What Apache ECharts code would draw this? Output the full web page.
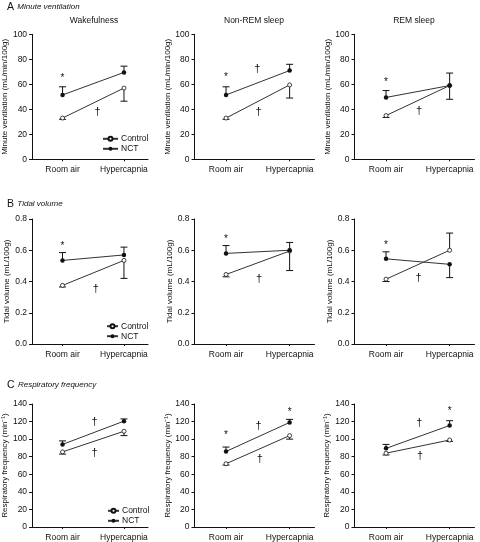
<!DOCTYPE html>
<html><head><meta charset="utf-8">
<script src="https://cdn.jsdelivr.net/npm/echarts@6/dist/echarts.min.js"></script>
<style>html,body{margin:0;padding:0;background:#fff}#c{width:480px;height:542px}</style>
</head><body><div id="c"></div>
<script>
// ---------- data ----------
const categories = ['Room air', 'Hypercapnia'];
const stateTitles = ['Wakefulness', 'Non-REM sleep', 'REM sleep'];
const rowLetters = ['A', 'B', 'C'];
const rowTitles = ['Minute ventilation', 'Tidal volume', 'Respiratory frequency'];
const yAxisNames = ['Minute ventilation (mL/min/100g)', 'Tidal volume (mL/100g)', 'Respiratory frequency (min\u207B\u00B9)'];
const yMax = [100, 0.8, 140];
const yStep = [20, 0.2, 20];
const yDecimals = [0, 1, 0];
const seriesNames = ['Control', 'NCT'];

// values [state][condition]  (Room air, Hypercapnia)
const mvControl = [[33, 57], [33, 59.5], [35, 59]];
const mvControlErrEnd = [[32, 46.5], [32, 49], [33.5, 48]];
const mvNCT = [[51.5, 69.5], [51.5, 71], [49.5, 59]];
const mvNCTErrEnd = [[58, 74.5], [58, 76], [55, 69]];

const tvControl = [[0.375, 0.535], [0.445, 0.595], [0.415, 0.6]];
const tvControlErrEnd = [[0.365, 0.42], [0.43, 0.47], [0.4, 0.71]];
const tvNCT = [[0.535, 0.57], [0.58, 0.6], [0.545, 0.51]];
const tvNCTErrEnd = [[0.585, 0.62], [0.63, 0.65], [0.59, 0.425]];

const rfControl = [[85.5, 109], [72, 104], [84, 99]];
const rfControlErrEnd = [[83, 104], [70.5, 100], [82, 97.5]];
const rfNCT = [[94, 120.5], [86, 119], [89.5, 115.5]];
const rfNCTErrEnd = [[98, 123], [91, 122.5], [94, 121]];

// significance marks [x position (0 = Room air, 1 = Hypercapnia), y value, symbol]
const mvMarks = [
  [[0, 67, '*'], [0.57, 38, '\u2020']],
  [[0, 68, '*'], [0.49, 72, '\u2020'], [0.51, 38, '\u2020']],
  [[0, 64, '*'], [0.52, 39, '\u2020']]
];
const tvMarks = [
  [[0, 0.64, '*'], [0.54, 0.35, '\u2020']],
  [[0, 0.686, '*'], [0.52, 0.418, '\u2020']],
  [[0, 0.648, '*'], [0.51, 0.425, '\u2020']]
];
const rfMarks = [
  [[0.52, 120, '\u2020'], [0.52, 84, '\u2020']],
  [[0, 107.8, '*'], [1, 133, '*'], [0.51, 114.5, '\u2020'], [0.53, 78, '\u2020']],
  [[1, 135, '*'], [0.525, 118.3, '\u2020'], [0.535, 81, '\u2020']]
];

const rows = [
  {c: mvControl, ce: mvControlErrEnd, n: mvNCT, ne: mvNCTErrEnd, marks: mvMarks},
  {c: tvControl, ce: tvControlErrEnd, n: tvNCT, ne: tvNCTErrEnd, marks: tvMarks},
  {c: rfControl, ce: rfControlErrEnd, n: rfNCT, ne: rfNCTErrEnd, marks: rfMarks}
];

// ---------- layout ----------
const FONT = "'Liberation Sans', Arial, sans-serif";
const INK = '#111';
const gridTops = [34.3, 219, 404];
const gridHeight = 125;
const colLefts = [32, 194.5, 354.5];
const colWidths = [116, 120, 120];
const nameGaps = [[21, 18, 18], [21, 19, 19], [23, 21.5, 23.5]];
const headerY = [7, 204, 385];
const titleCenters = [94, 254, 414];

const chart = echarts.init(document.getElementById('c'), null, {renderer: 'canvas'});

const grids = [], xAxes = [], yAxes = [], series = [];
let gi = 0;
for (let r = 0; r < 3; r++) {
  for (let c = 0; c < 3; c++) {
    grids.push({left: colLefts[c], top: gridTops[r], width: colWidths[c], height: gridHeight, containLabel: false});
    xAxes.push({
      gridIndex: gi, type: 'value', min: -0.496, max: 1.391,
      axisLine: {show: true, onZero: false, lineStyle: {color: INK, width: 1}},
      axisTick: {show: true, length: 2, customValues: [0, 1], lineStyle: {color: INK}},
      axisLabel: {customValues: [0, 1], fontSize: 8.5, fontFamily: FONT, color: INK, margin: 6,
        formatter: v => categories[Math.round(v)]},
      splitLine: {show: false}
    });
    const dec = yDecimals[r];
    yAxes.push({
      gridIndex: gi, type: 'value', min: 0, max: yMax[r], interval: yStep[r],
      name: yAxisNames[r], nameLocation: 'middle', nameGap: nameGaps[r][c],
      nameTextStyle: {fontSize: 8, fontFamily: FONT, color: INK},
      axisLine: {show: true, onZero: false, lineStyle: {color: INK, width: 1}},
      axisTick: {show: true, length: 3, lineStyle: {color: INK}},
      axisLabel: {fontSize: 8.5, fontFamily: FONT, color: INK, margin: 5, formatter: v => v.toFixed(dec)},
      splitLine: {show: false}
    });
    const d = rows[r];
    const errData = [];
    [0, 1].forEach(k => {
      errData.push([k, d.c[c][k], d.ce[c][k]]);
      errData.push([k, d.n[c][k], d.ne[c][k]]);
    });
    series.push({
      type: 'custom', xAxisIndex: gi, yAxisIndex: gi, silent: true, z: 1,
      data: errData, encode: {x: 0, y: [1, 2]},
      renderItem: (params, api) => {
        const x = api.value(0), m = api.value(1), e = api.value(2);
        const p0 = api.coord([x, m]), p1 = api.coord([x, e]);
        const hw = 3.5;
        return {type: 'group', children: [
          {type: 'line', shape: {x1: p0[0], y1: p0[1], x2: p1[0], y2: p1[1]}, style: {stroke: INK, lineWidth: 1}},
          {type: 'line', shape: {x1: p1[0] - hw, y1: p1[1], x2: p1[0] + hw, y2: p1[1]}, style: {stroke: INK, lineWidth: 1}}
        ]};
      }
    });
    series.push({
      name: seriesNames[0], type: 'line', xAxisIndex: gi, yAxisIndex: gi, z: 3,
      data: [[0, d.c[c][0]], [1, d.c[c][1]]],
      symbol: 'circle', symbolSize: 4, showAllSymbol: true,
      lineStyle: {color: '#333', width: 1},
      itemStyle: {color: '#fff', borderColor: INK, borderWidth: 0.8},
      animation: false
    });
    series.push({
      name: seriesNames[1], type: 'line', xAxisIndex: gi, yAxisIndex: gi, z: 4,
      data: [[0, d.n[c][0]], [1, d.n[c][1]]],
      symbol: 'circle', symbolSize: 4.5, showAllSymbol: true,
      lineStyle: {color: '#333', width: 1},
      itemStyle: {color: INK, borderColor: INK, borderWidth: 0},
      animation: false
    });
    const marks = d.marks[c];
    series.push({
      type: 'custom', xAxisIndex: gi, yAxisIndex: gi, silent: true, z: 5,
      data: marks.map(m => [m[0], m[1]]),
      renderItem: (params, api) => {
        const mk = marks[params.dataIndex];
        const p = api.coord([api.value(0), api.value(1)]);
        const isStar = mk[2] === '*';
        return {type: 'text', x: p[0], y: p[1] + (isStar ? 2.5 : 0), style: {
          text: mk[2], align: 'center', verticalAlign: 'middle',
          font: (isStar ? '10px ' : '11px ') + FONT, fill: INK
        }};
      }
    });
    gi++;
  }
}

const legendTops = [128.8, 316.2, 500.8];
const legendLefts = [97, 101, 102];
const legendWidths = [15, 11, 11];
const legends = legendTops.map((t, i) => ({
  top: t, left: legendLefts[i], orient: 'vertical', itemGap: 0,
  itemWidth: legendWidths[i], itemHeight: 5, selectedMode: false,
  data: seriesNames,
  textStyle: {fontSize: 8.5, fontFamily: FONT, color: INK, lineHeight: 10, padding: [0, 0, 0, -2]}
}));

const graphics = [];
for (let r = 0; r < 3; r++) {
  graphics.push({type: 'text', x: 7, y: headerY[r], style: {
    text: '{l|' + rowLetters[r] + '} {t|' + rowTitles[r] + '}', verticalAlign: 'middle', align: 'left',
    rich: {l: {fontSize: 10.5, fontFamily: FONT, fill: INK}, t: {fontSize: 8, fontStyle: 'italic', fontFamily: FONT, fill: INK}}
  }});
}
for (let c = 0; c < 3; c++) {
  graphics.push({type: 'text', x: titleCenters[c], y: 21, style: {
    text: stateTitles[c], align: 'center', verticalAlign: 'middle', font: '8.5px ' + FONT, fill: INK
  }});
}

chart.setOption({
  animation: false,
  backgroundColor: '#fff',
  grid: grids, xAxis: xAxes, yAxis: yAxes, series: series,
  legend: legends, graphic: graphics
});
</script>
</body></html>
